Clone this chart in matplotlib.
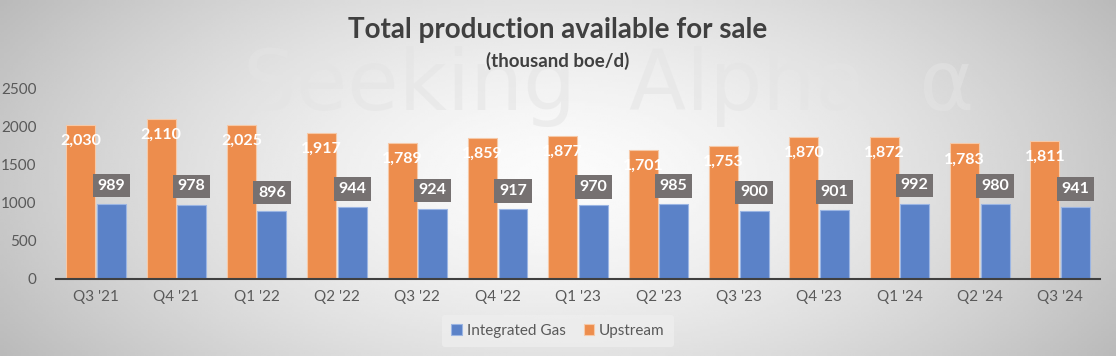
import matplotlib.pyplot as plt
import numpy as np

quarters = ["Q3 '21", "Q4 '21", "Q1 '22", "Q2 '22", "Q3 '22", "Q4 '22", "Q1 '23",
            "Q2 '23", "Q3 '23", "Q4 '23", "Q1 '24", "Q2 '24", "Q3 '24"]
upstream = [2030, 2110, 2025, 1917, 1789, 1859, 1877, 1701, 1753, 1870, 1872, 1783, 1811]
integrated_gas = [989, 978, 896, 944, 924, 917, 970, 985, 900, 901, 992, 980, 941]

plt.rcParams['font.family'] = ['Lato', 'DejaVu Sans']

fig = plt.figure(figsize=(11.16, 3.56), dpi=100)

# background gradient + faint watermark
bg = fig.add_axes([0, 0, 1, 1], zorder=-10)
gx, gy = np.meshgrid(np.linspace(-1, 1, 400), np.linspace(-1, 1, 150))
r = np.sqrt((gx / 1.0) ** 2 + (gy / 1.6) ** 2)
shade = 0.985 - 0.2 * np.clip(r, 0, 1.2) ** 1.5
bg.imshow(shade, cmap='gray', vmin=0, vmax=1, aspect='auto', extent=[0, 1, 0, 1])
bg.text(0.545, 0.69, 'Seeking  Alpha  α', fontsize=60, color='#e4e4e4', alpha=0.55,
        ha='center', va='baseline', family='DejaVu Sans')
bg.set_xlim(0, 1)
bg.set_ylim(0, 1)
bg.axis('off')

ax = fig.add_axes([0.050, 0.2163, 0.936, 0.534])
ax.patch.set_alpha(0)

x = np.arange(len(quarters))
w = 0.36
orange = '#ed8d4d'
blue = '#5b82c8'
b1 = ax.bar(x - w / 2 - 0.01, upstream, w, color=orange, edgecolor='#f6c9a8', linewidth=0.8,
            label='Upstream')
b2 = ax.bar(x + w / 2 + 0.01, integrated_gas, w, color=blue, edgecolor='#9bb5e3', linewidth=0.8,
            label='Integrated Gas')

for xi, v in zip(x, upstream):
    ax.text(xi - w / 2 - 0.01, v - 210, f'{v:,}', ha='center', va='center', color='white',
            fontsize=11.5, fontweight='bold')
for xi, v in zip(x, integrated_gas):
    ax.text(xi + w / 2 + 0.01, v + 240, f'{v:,}', ha='center', va='center', color='white',
            fontsize=11.5, fontweight='bold',
            bbox=dict(boxstyle='square,pad=0.3', facecolor='#767171', edgecolor='none'))

ax.set_xlim(-0.5, len(quarters) - 0.5)
ax.set_ylim(0, 2500)
ax.set_yticks(range(0, 2501, 500))
ax.set_xticks(x)
ax.set_xticklabels(quarters)
ax.tick_params(axis='both', length=0, colors='#595959', labelsize=11)
ax.tick_params(axis='x', pad=8)
ax.tick_params(axis='y', pad=14)
for s in ['top', 'right', 'left']:
    ax.spines[s].set_visible(False)
ax.spines['bottom'].set_color('#404040')
ax.spines['bottom'].set_linewidth(1.5)

fig.text(0.5, 0.915, 'Total production available for sale', ha='center', va='center',
         fontsize=20, fontweight='bold', color='#404040')
fig.text(0.5, 0.83, '(thousand boe/d)', ha='center', va='center',
         fontsize=13.5, fontweight='bold', color='#404040')

leg = fig.legend(handles=[b2, b1], loc='center', bbox_to_anchor=(0.5, 0.07), ncol=2,
                 frameon=True, fontsize=11, handlelength=0.7, handleheight=0.7,
                 columnspacing=1.2, handletextpad=0.3, borderpad=0.6)
leg.get_frame().set_facecolor('#eeeeee')
leg.get_frame().set_edgecolor('none')
leg.get_frame().set_alpha(0.8)
for t in leg.get_texts():
    t.set_color('#595959')

fig.savefig('out.png', dpi=100)
